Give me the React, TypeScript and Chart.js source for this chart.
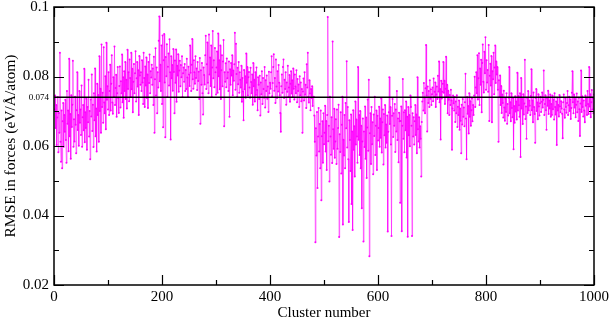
import React, { useEffect, useRef } from "react";
import { Chart, registerables } from "chart.js";

Chart.register(...registerables);

// RMSE in forces per cluster (clusters 1..1000)
const rmse: number[] = [
  .0705,.0745,.0652,.0718,.0603,.0682,.0741,.0582,.0695,.0638,.0868,.0612,.0555,.0702,.0536,.0671,.0724,.0598,.0689,.0641,
  .0733,.0617,.0552,.0758,.0664,.0702,.0585,.0851,.0628,.0692,.0563,.0746,.0655,.0719,.0845,.0598,.0677,.0613,.0742,.0661,
  .0579,.0703,.0812,.0646,.0689,.0601,.0758,.0667,.0705,.0632,.0774,.0598,.0683,.0718,.0645,.0822,.0611,.0697,.0652,.0736,
  .0589,.0712,.0668,.0791,.0627,.0701,.0562,.0734,.0685,.0806,.0643,.0719,.0597,.0752,.0674,.0823,.0628,.0708,.0584,.0779,
  .0689,.0747,.0612,.0858,.0701,.0765,.0638,.0892,.0712,.0753,.0667,.0884,.0725,.0694,.0801,.0648,.0897,.0733,.0772,.0705,
  .0812,.0689,.0758,.0834,.0702,.0779,.0861,.0725,.0693,.0798,.0742,.0886,.0718,.0767,.0805,.0684,.0752,.0827,.0738,.0695,
  .0773,.0829,.0711,.0786,.0752,.0863,.0726,.0798,.0681,.0815,.0758,.0842,.0735,.0791,.0708,.0877,.0764,.0812,.0729,.0849,
  .0796,.0741,.0868,.0763,.0822,.0697,.0785,.0836,.0752,.0809,.0873,.0728,.0795,.0842,.0771,.0818,.0689,.0859,.0803,.0776,
  .0812,.0758,.0847,.0783,.0721,.0868,.0796,.0712,.0829,.0774,.0855,.0738,.0806,.0709,.0842,.0781,.0863,.0752,.0815,.0797,
  .0834,.0776,.0823,.0718,.0857,.0638,.0792,.0881,.0745,.0826,.0694,.0812,.0768,.0903,.0973,.0786,.0834,.0758,.0889,.0721,
  .0918,.0654,.0847,.0922,.0783,.0625,.0856,.0801,.0893,.0742,.0828,.0866,.0774,.0907,.0812,.0619,.0858,.0795,.0833,.0759,
  .0879,.0813,.0694,.0846,.0782,.0878,.0727,.0831,.0803,.0864,.0756,.0817,.0845,.0772,.0833,.0798,.0858,.0741,.0809,.0826,
  .0785,.0836,.0758,.0819,.0764,.0851,.0797,.0742,.0828,.0806,.0773,.0889,.0811,.0758,.0834,.0908,.0792,.0765,.0847,.0812,
  .0779,.0858,.0796,.0823,.0761,.0842,.0787,.0814,.0735,.0853,.0664,.0818,.0776,.0839,.0752,.0691,.0826,.0804,.0777,.0861,
  .0917,.0764,.0835,.0898,.0782,.0752,.0921,.0806,.0855,.0773,.0889,.0741,.0826,.0931,.0795,.0847,.0769,.0882,.0812,.0748,
  .0826,.0872,.0753,.0924,.0801,.0847,.0763,.0889,.0735,.0818,.0861,.0772,.0843,.0905,.0657,.0812,.0785,.0838,.0769,.0852,
  .0795,.0812,.0758,.0843,.0684,.0821,.0776,.0839,.0803,.0861,.0746,.0817,.0788,.0835,.0926,.0762,.0894,.0807,.0741,.0825,
  .0778,.0842,.0753,.0812,.0791,.0768,.0831,.0727,.0796,.0757,.0674,.0819,.0763,.0801,.0739,.0866,.0782,.0827,.0745,.0798,
  .0813,.0768,.0739,.0825,.0784,.0752,.0806,.0719,.0839,.0772,.0791,.0728,.0812,.0747,.0826,.0761,.0703,.0798,.0776,.0735,
  .0802,.0688,.0783,.0749,.0815,.0721,.0796,.0764,.0739,.0827,.0711,.0789,.0758,.0803,.0736,.0771,.0698,.0814,.0752,.0782,
  .0765,.0812,.0858,.0743,.0781,.0827,.0864,.0759,.0796,.0724,.0849,.0771,.0738,.0815,.0757,.0833,.0782,.0746,.0695,.0641,
  .0772,.0806,.0753,.0827,.0849,.0738,.0791,.0764,.0812,.0719,.0783,.0756,.0831,.0742,.0768,.0804,.0727,.0779,.0815,.0751,
  .0789,.0742,.0823,.0765,.0734,.0806,.0771,.0752,.0818,.0726,.0793,.0758,.0777,.0712,.0801,.0746,.0783,.0729,.0764,.0638,
  .0757,.0794,.0731,.0812,.0748,.0776,.0709,.0835,.0768,.0868,.0742,.0725,.0789,.0751,.0703,.0764,.0738,.0772,.0715,.0741,
  .0742,.0688,.0612,.0323,.0651,.0573,.0698,.0479,.0627,.0709,.0584,.0663,.0536,.0702,.0444,.0628,.0671,.0552,.0694,.0605,
  .0638,.0716,.0584,.0672,.0531,.0689,.0971,.0614,.0658,.0498,.0742,.0627,.0575,.0683,.0551,.0901,.0648,.0592,.0707,.0566,
  .0613,.0677,.0548,.0705,.0592,.0652,.0719,.0338,.0634,.0583,.0697,.0521,.0661,.0742,.0374,.0618,.0573,.0689,.0536,.0724,
  .0651,.0844,.0596,.0712,.0562,.0381,.0674,.0617,.0528,.0691,.0433,.0642,.0358,.0703,.0589,.0657,.0512,.0728,.0604,.0676,
  .0627,.0552,.0827,.0618,.0689,.0574,.0701,.0536,.0658,.0421,.0613,.0679,.0325,.0642,.0597,.0714,.0563,.0682,.0508,.0653,
  .0734,.0586,.0791,.0283,.0637,.0694,.0548,.0712,.0605,.0668,.0519,.0691,.0629,.0742,.0574,.0658,.0702,.0531,.0687,.0616,
  .0652,.0713,.0598,.0679,.0624,.0737,.0581,.0668,.0705,.0547,.0692,.0631,.0718,.0596,.0662,.0609,.0688,.0354,.0641,.0697,
  .0798,.0663,.0712,.0604,.0341,.0687,.0735,.0626,.0694,.0658,.0721,.0583,.0705,.0642,.0758,.0617,.0679,.0553,.0696,.0671,
  .0437,.0672,.0714,.0355,.0658,.0793,.0621,.0697,.0582,.0703,.0645,.0728,.0567,.0684,.0339,.0712,.0631,.0689,.0599,.0745,
  .0712,.0658,.0341,.0694,.0627,.0683,.0604,.0671,.0718,.0632,.0691,.0579,.0798,.0648,.0613,.0683,.0596,.0657,.0621,.0512,
  .0669,.0728,.0753,.0702,.0781,.0739,.0694,.0766,.0891,.0745,.0642,.0771,.0724,.0758,.0712,.0789,.0736,.0763,.0718,.0749,
  .0768,.0729,.0794,.0741,.0756,.0783,.0712,.0748,.0771,.0735,.0802,.0757,.0843,.0726,.0764,.0619,.0788,.0737,.0756,.0779,
  .0842,.0753,.0788,.0721,.0765,.0857,.0742,.0776,.0694,.0759,.0733,.0689,.0747,.0718,.0762,.0731,.0589,.0708,.0745,.0723,
  .0702,.0741,.0669,.0728,.0694,.0746,.0655,.0713,.0689,.0731,.0647,.0708,.0673,.0579,.0719,.0662,.0735,.0684,.0711,.0657,
  .0726,.0808,.0679,.0562,.0741,.0693,.0715,.0636,.0752,.0684,.0729,.0658,.0703,.0737,.0671,.0718,.0689,.0745,.0799,.0712,
  .0768,.0812,.0752,.0861,.0734,.0795,.0867,.0718,.0823,.0776,.0848,.0697,.0839,.0892,.0785,.0754,.0871,.0809,.0913,.0762,
  .0847,.0783,.0819,.0756,.0891,.0672,.0802,.0837,.0774,.0859,.0668,.0815,.0792,.0868,.0749,.0826,.0889,.0781,.0843,.0806,
  .0827,.0762,.0612,.0789,.0741,.0803,.0718,.0773,.0695,.0748,.0724,.0682,.0759,.0711,.0673,.0736,.0698,.0752,.0664,.0721,
  .0688,.0739,.0827,.0694,.0726,.0671,.0752,.0709,.0683,.0738,.0591,.0715,.0667,.0743,.0699,.0728,.0676,.0811,.0702,.0744,
  .0717,.0684,.0752,.0568,.0796,.0708,.0735,.0663,.0749,.0691,.0722,.0848,.0678,.0714,.0621,.0739,.0695,.0758,.0702,.0731,
  .0716,.0689,.0744,.0821,.0703,.0731,.0668,.0754,.0712,.0692,.0609,.0738,.0764,.0701,.0725,.0677,.0749,.0714,.0688,.0723,
  .0742,.0698,.0727,.0754,.0711,.0733,.0817,.0689,.0721,.0746,.0703,.0647,.0738,.0716,.0759,.0692,.0731,.0708,.0748,.0684,
  .0721,.0689,.0745,.0706,.0733,.0676,.0752,.0712,.0691,.0728,.0603,.0739,.0702,.0718,.0685,.0747,.0714,.0697,.0729,.0708,
  .0693,.0622,.0726,.0748,.0705,.0681,.0737,.0712,.0696,.0724,.0758,.0689,.0717,.0742,.0701,.0734,.0678,.0709,.0753,.0815,
  .0726,.0694,.0748,.0711,.0735,.0683,.0719,.0751,.0697,.0728,.0672,.0739,.0706,.0629,.0722,.0817,.0698,.0743,.0712,.0685,
  .0731,.0702,.0668,.0745,.0716,.0738,.0689,.0758,.0721,.0692,.0827,.0714,.0749,.0683,.0726,.0761,.0705,.0737,.0694,.0748,
];
const firstCluster = 1;
const meanRmse = 0.074;
const meanLineX = [0, 1000];

const xMajorTicks = [0, 200, 400, 600, 800, 1000];
const xMinorTicks = [100, 300, 500, 700, 900];
const yMajorTicks = [0.02, 0.04, 0.06, 0.08, 0.1];
const yMinorTicks = [0.03, 0.05, 0.07, 0.09];

const xTitle = "Cluster number";
const yTitle = "RMSE in forces (eV/Å/atom)";

const FONT = "'Liberation Serif', 'Times New Roman', serif";

const framePlugin = {
  id: "frameTicks",
  afterDraw(chart: any) {
    const { ctx, chartArea, scales } = chart;
    const { left, right, top, bottom } = chartArea;
    const x = scales.x;
    const y = scales.y;
    ctx.save();
    ctx.strokeStyle = "#000";
    ctx.lineWidth = 1.5;
    ctx.strokeRect(left, top, right - left, bottom - top);
    ctx.lineWidth = 1.2;
    ctx.beginPath();
    const drawX = (vals: number[], len: number) => {
      vals.forEach((v) => {
        const px = Math.round(x.getPixelForValue(v)) + 0.5;
        ctx.moveTo(px, bottom);
        ctx.lineTo(px, bottom - len);
        ctx.moveTo(px, top);
        ctx.lineTo(px, top + len);
      });
    };
    const drawY = (vals: number[], len: number) => {
      vals.forEach((v) => {
        const py = Math.round(y.getPixelForValue(v)) + 0.5;
        ctx.moveTo(left, py);
        ctx.lineTo(left + len, py);
        ctx.moveTo(right, py);
        ctx.lineTo(right - len, py);
      });
    };
    drawX(xMajorTicks, 10);
    drawX(xMinorTicks, 5);
    drawY(yMajorTicks, 10);
    drawY(yMinorTicks, 5);
    ctx.stroke();
    ctx.restore();
  },
};

export default function App() {
  const ref = useRef<HTMLCanvasElement | null>(null);
  useEffect(() => {
    if (!ref.current) return;
    const chart = new Chart(ref.current, {
      type: "line",
      data: {
        datasets: [
          {
            label: "mean",
            data: meanLineX.map((v) => ({ x: v, y: meanRmse })),
            borderColor: "#000",
            borderWidth: 1.5,
            pointRadius: 0,
            order: 0,
          },
          {
            label: "RMSE",
            data: rmse.map((v, i) => ({ x: i + firstCluster, y: v })),
            borderColor: "rgba(255,0,255,0.7)",
            backgroundColor: "#ff00ff",
            borderWidth: 0.8,
            pointRadius: 1,
            pointBorderWidth: 0,
            pointBackgroundColor: "#ff00ff",
            tension: 0,
            order: 1,
          },
        ],
      },
      options: {
        animation: false,
        responsive: false,
        devicePixelRatio: 1,
        layout: { padding: { left: 0, top: 0, right: 0, bottom: 0 } },
        plugins: { legend: { display: false }, tooltip: { enabled: false } },
        scales: {
          x: {
            type: "linear",
            min: 0,
            max: 1000,
            afterBuildTicks: (s: any) => {
              s.ticks = xMajorTicks.map((v) => ({ value: v }));
            },
            afterFit: (s: any) => {
              s.height = 34;
              s.paddingLeft = 0;
              s.paddingRight = 15;
            },
            grid: { display: false, drawTicks: false },
            border: { display: false },
            ticks: {
              color: "#000",
              font: { family: FONT, size: 15 },
              padding: 3,
              maxRotation: 0,
              callback: (v: any) => String(v),
            },
            title: {
              display: true,
              text: xTitle,
              color: "#000",
              font: { family: FONT, size: 15 },
              padding: { top: 3, bottom: -3 },
            },
          },
          y: {
            type: "linear",
            min: 0.02,
            max: 0.1,
            afterBuildTicks: (s: any) => {
              s.ticks = [...yMajorTicks, meanRmse]
                .sort((a, b) => a - b)
                .map((v) => ({ value: v }));
            },
            afterFit: (s: any) => {
              s.width = 54;
              s.paddingTop = 7;
              s.paddingBottom = 0;
            },
            grid: { display: false, drawTicks: false },
            border: { display: false },
            ticks: {
              color: "#000",
              padding: 5,
              font: (c: any) => ({
                family: FONT,
                size: c.tick && Math.abs(c.tick.value - meanRmse) < 1e-9 ? 9 : 15,
              }),
              callback: (v: any) => String(Number(Number(v).toFixed(3))),
            },
            title: {
              display: true,
              text: yTitle,
              color: "#000",
              font: { family: FONT, size: 15.5 },
              padding: { top: 2, bottom: 0 },
            },
          },
        },
      },
      plugins: [framePlugin],
    } as any);
    return () => chart.destroy();
  }, []);
  return (
    <canvas
      ref={ref}
      width={609}
      height={319}
      style={{ position: "absolute", left: 0, top: 0, width: 609, height: 319 }}
    />
  );
}
